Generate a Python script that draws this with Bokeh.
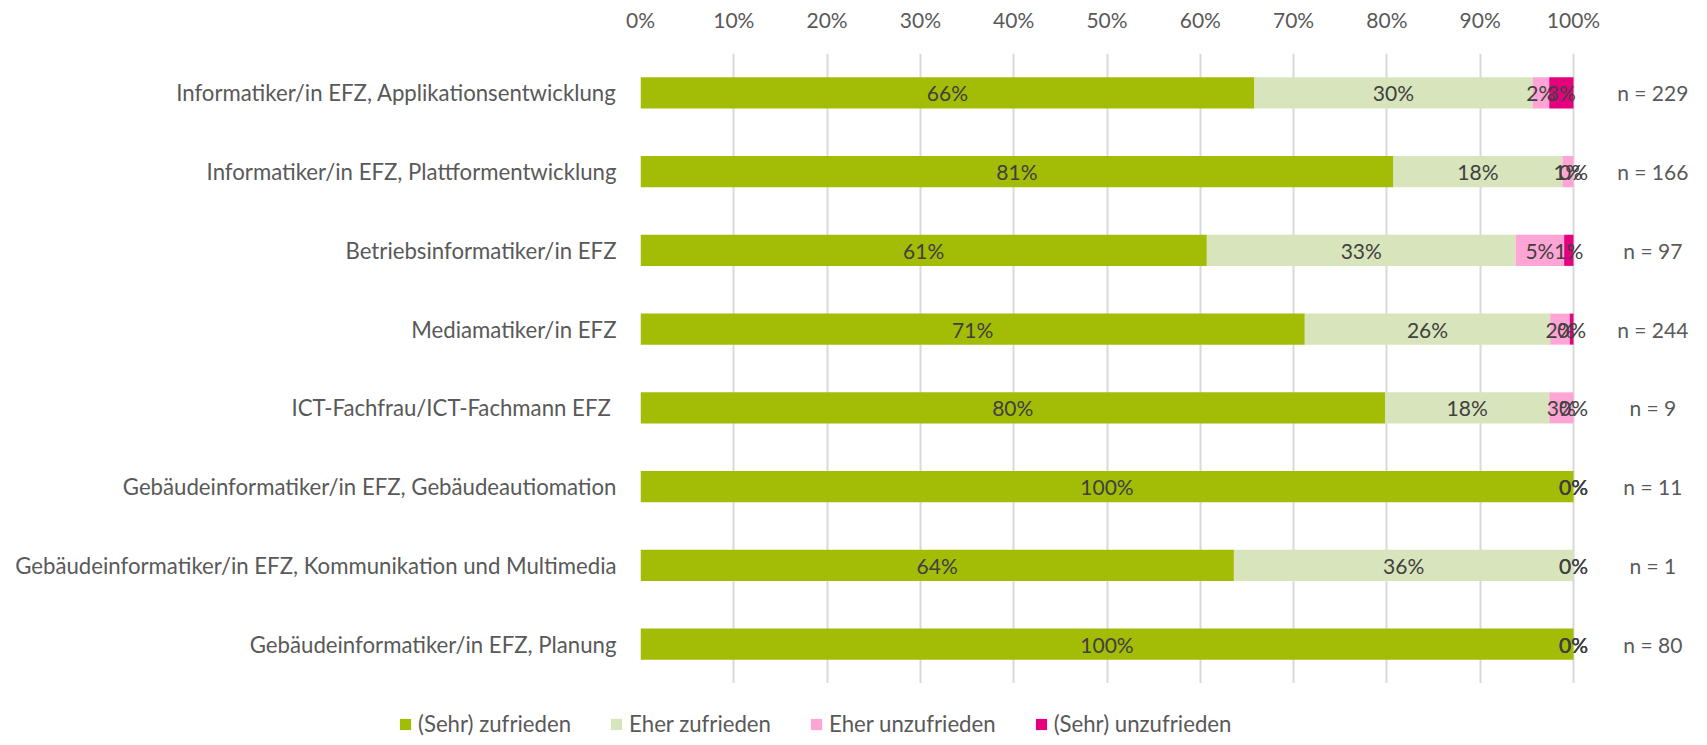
from bokeh.plotting import figure
from bokeh.models import (ColumnDataSource, FactorRange, Range1d, FixedTicker,
                          PrintfTickFormatter, Legend, LegendItem)
from bokeh.core.properties import value
from bokeh.embed import file_html
from bokeh.resources import INLINE

categories = [
    "Informatiker/in EFZ, Applikationsentwicklung",
    "Informatiker/in EFZ, Plattformentwicklung",
    "Betriebsinformatiker/in EFZ",
    "Mediamatiker/in EFZ",
    "ICT-Fachfrau/ICT-Fachmann EFZ ",
    "Gebäudeinformatiker/in EFZ, Gebäudeautiomation",
    "Gebäudeinformatiker/in EFZ, Kommunikation und Multimedia",
    "Gebäudeinformatiker/in EFZ, Planung",
]
sehr_zufrieden = [65.8, 80.7, 60.7, 71.2, 79.8, 100.0, 63.6, 100.0]
eher_zufrieden = [29.8, 18.1, 33.1, 26.3, 17.6, 0.0, 36.4, 0.0]
eher_unzufrieden = [1.8, 1.2, 5.2, 2.1, 2.6, 0.0, 0.0, 0.0]
sehr_unzufrieden = [2.6, 0.0, 1.0, 0.4, 0.0, 0.0, 0.0, 0.0]
n_values = [229, 166, 97, 244, 9, 11, 1, 80]
series_names = ["(Sehr) zufrieden", "Eher zufrieden", "Eher unzufrieden", "(Sehr) unzufrieden"]
tick_values = [0, 10, 20, 30, 40, 50, 60, 70, 80, 90, 100]

colors = ["#A3BC06", "#D8E4BC", "#FFA5D5", "#E5007D"]
FONT = "Lato"
FS_NUM = "21px"
FS_TXT = "22.2px"
FRAME_W = 1051
PX_PER_PCT = 9.33

keys = ["s0", "s1", "s2", "s3"]
series = [sehr_zufrieden, eher_zufrieden, eher_unzufrieden, sehr_unzufrieden]
data = {"cat": categories}
for k, s in zip(keys, series):
    data[k] = s
source = ColumnDataSource(data)

p = figure(frame_width=FRAME_W, frame_height=630, output_backend="svg", toolbar_location=None,
           y_range=FactorRange(factors=list(reversed(categories))),
           x_range=Range1d(0, FRAME_W / PX_PER_PCT), x_axis_location="above",
           min_border_left=640, min_border_right=0, min_border_top=53,
           min_border_bottom=0)
p.outline_line_color = None
p.background_fill_color = "white"

renderers = p.hbar_stack(keys, y="cat", height=0.394, color=colors, source=source,
                         line_color=None)

# segment labels
lx, ly, lt = [], [], []
for i, cat in enumerate(categories):
    cum = 0.0
    for s in series:
        v = s[i]
        lx.append(cum + v / 2.0)
        ly.append(cat)
        lt.append(f"{round(v)}%")
        cum += v
p.text(x="x", y="y", text="t", source=ColumnDataSource(dict(x=lx, y=ly, t=lt)),
       text_align="center", text_baseline="middle", text_font=value(FONT),
       text_font_size=FS_NUM, text_color="#404040")

# n labels
p.text(x=[108.5] * len(categories), y=categories, text=[f"n = {n}" for n in n_values],
       text_align="center", text_baseline="middle", text_font=value(FONT),
       text_font_size=FS_NUM, text_color="#595959")

# axes
xa = p.xaxis[0]
xa.ticker = FixedTicker(ticks=tick_values)
xa.formatter = PrintfTickFormatter(format="%d%%")
xa.axis_line_color = None
xa.major_tick_line_color = None
xa.minor_tick_line_color = None
xa.major_tick_out = 0
xa.major_tick_in = 0
xa.minor_tick_out = 0
xa.major_label_text_font = FONT
xa.major_label_text_font_size = FS_NUM
xa.major_label_text_color = "#595959"
xa.major_label_standoff = 22

ya = p.yaxis[0]
ya.axis_line_color = None
ya.major_tick_line_color = None
ya.minor_tick_line_color = None
ya.major_tick_out = 0
ya.major_tick_in = 0
ya.minor_tick_out = 0
ya.major_label_text_font = FONT
ya.major_label_text_font_size = FS_TXT
ya.major_label_text_color = "#595959"
ya.major_label_standoff = 24

p.xgrid.ticker = FixedTicker(ticks=tick_values)
p.xgrid.grid_line_color = "#D9D9D9"
p.xgrid.grid_line_width = 2
p.ygrid.grid_line_color = None

# legend strip below the chart, as a separate root (no frame alignment)
leg = figure(width=640 + FRAME_W, height=54, output_backend="svg", toolbar_location=None,
             x_range=Range1d(0, 1), y_range=Range1d(0, 1),
             x_axis_type=None, y_axis_type=None,
             min_border_left=0, min_border_right=0, min_border_top=0, min_border_bottom=0)
leg.outline_line_color = None
leg.xgrid.visible = False
leg.ygrid.visible = False
# swatch renderers kept outside the visible range; only their legend glyphs show
leg_renderers = [leg.hbar(y=[-10], right=[1], height=1, color=c, line_color=None) for c in colors]

legend = Legend(items=[LegendItem(label=n, renderers=[r]) for n, r in zip(series_names, leg_renderers)],
                orientation="horizontal", location=(398, 0),
                glyph_width=14, glyph_height=14, label_height=14, label_standoff=6,
                spacing=38, padding=0, margin=0, border_line_color=None,
                background_fill_alpha=0, label_text_font=FONT, label_text_font_size=FS_TXT,
                label_text_color="#595959", label_text_baseline="middle")
leg.add_layout(legend, "center")

open("out.html", "w").write(file_html([p, leg], INLINE))
